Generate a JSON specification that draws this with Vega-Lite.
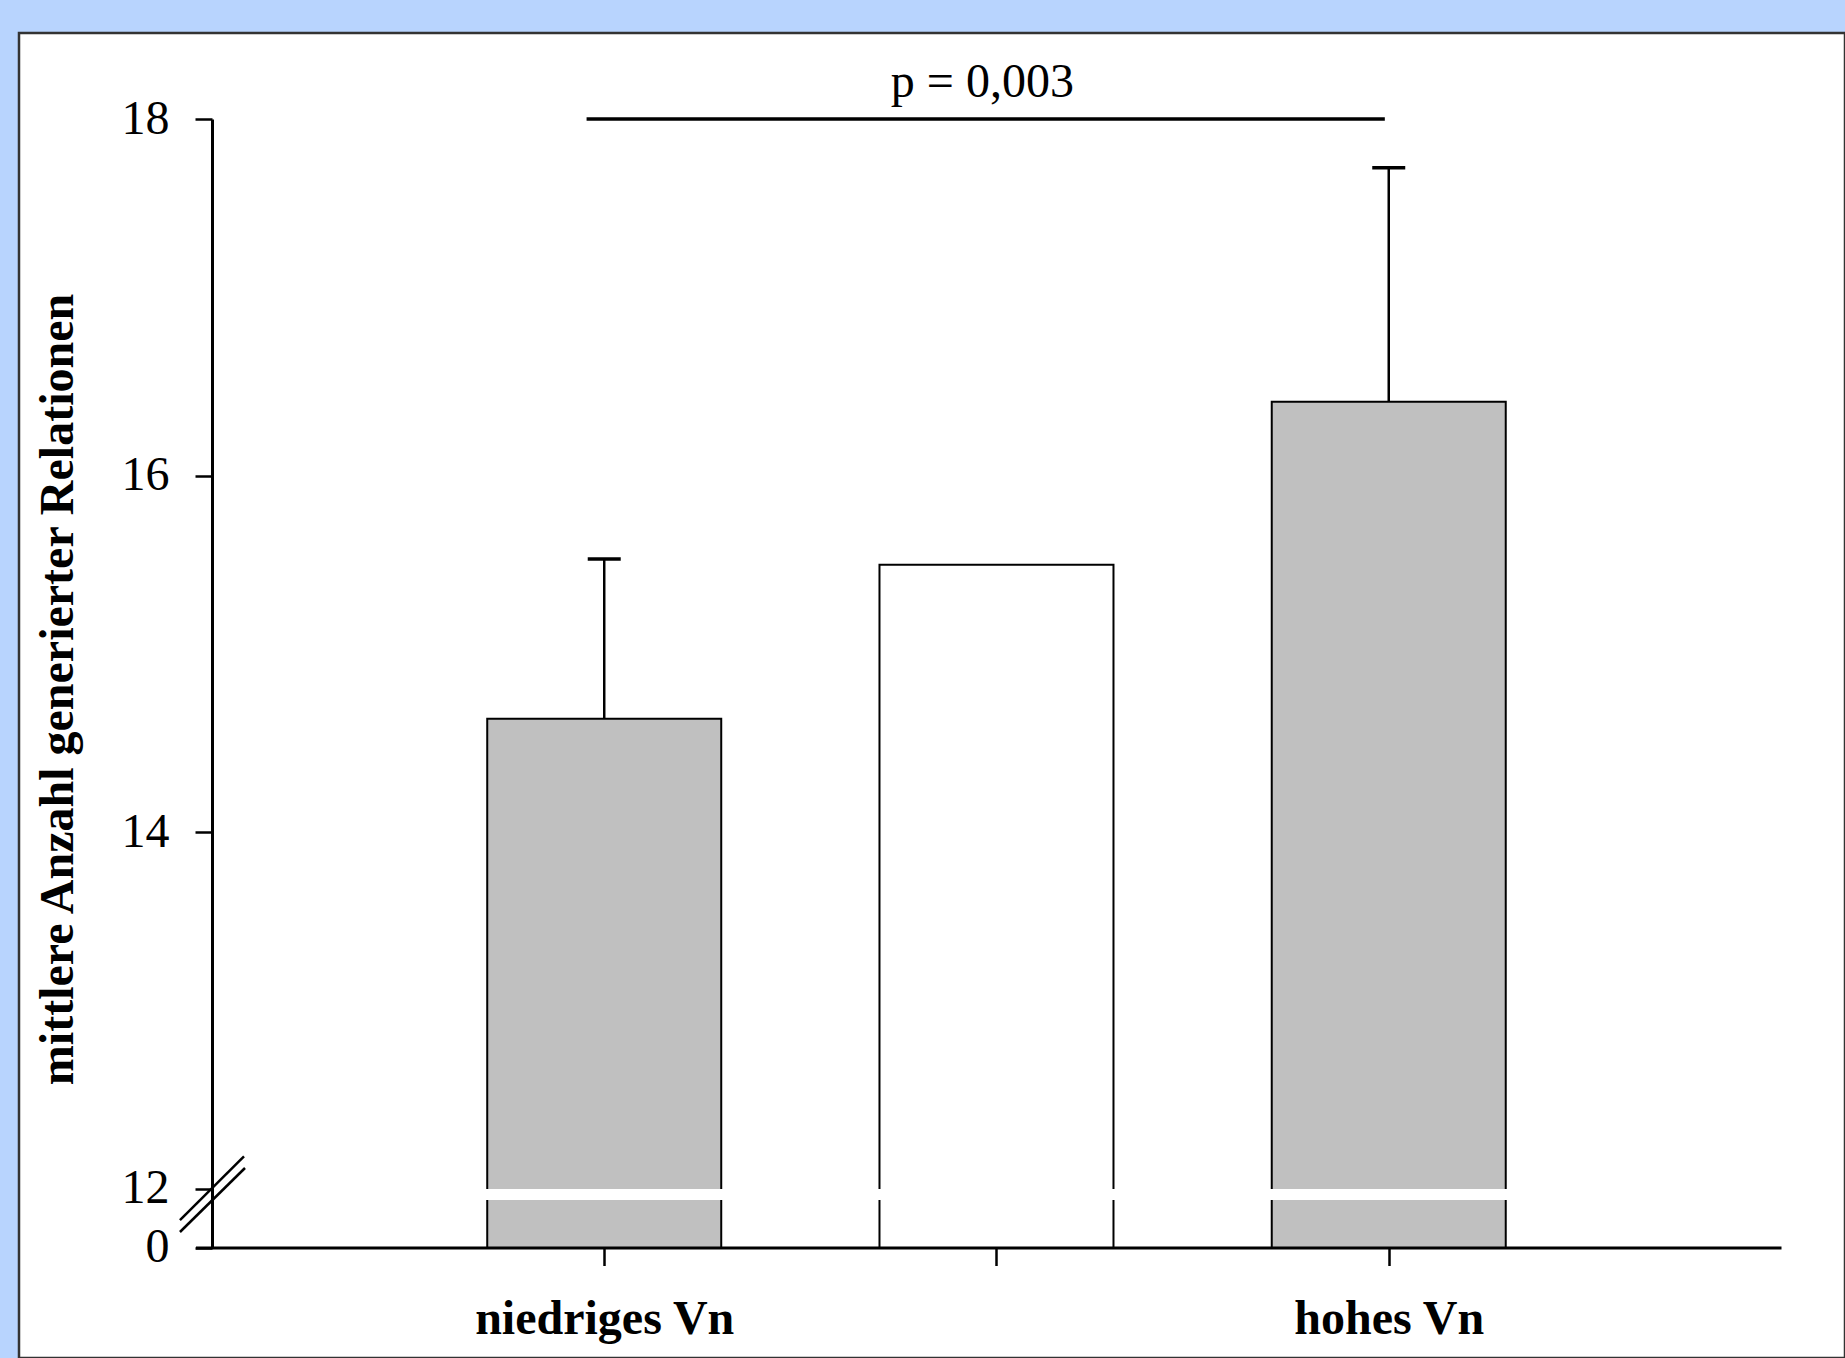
{
  "$schema": "https://vega.github.io/schema/vega-lite/v6.json",
  "autosize": "none",
  "width": 1826,
  "height": 1325,
  "padding": {"left": 19, "top": 33, "right": 0, "bottom": 0},
  "background": "#b8d4fe",
  "config": {
    "view": {"fill": "white", "stroke": "#333333", "strokeWidth": 2.5},
    "axis": {"grid": false}
  },
  "datasets": {
    "bars": [
      {"cat": 1, "gruppe": "niedriges Vn", "mittelwert": 14.635, "oben": 15.532, "typ": "grau"},
      {"cat": 2, "gruppe": "", "mittelwert": 15.5, "oben": null, "typ": "weiss"},
      {"cat": 3, "gruppe": "hohes Vn", "mittelwert": 16.414, "oben": 17.727, "typ": "grau"}
    ],
    "sig": [{"x1": 0.955, "x2": 2.99, "y": 18, "xt": 1.964, "yt": 18.125, "text": "p = 0,003"}],
    "bruch": [
      {"x1": -0.0816, "y1": 5.59, "x2": 0.0816, "y2": 12.18},
      {"x1": -0.0816, "y1": 3.15, "x2": 0.0842, "y2": 12.115}
    ]
  },
  "layer": [
    {
      "data": {"name": "bars"},
      "mark": {"type": "bar", "width": 234, "stroke": "black", "strokeWidth": 2},
      "encoding": {
        "x": {
          "field": "cat", "type": "quantitative",
          "scale": {"domain": [-0.042, 4], "range": [176.5, 1762], "nice": false, "zero": false, "padding": 0},
          "axis": {
            "values": [1, 2, 3], "offset": -110.5,
            "labelExpr": "datum.value == 1 ? 'niedriges Vn' : datum.value == 3 ? 'hohes Vn' : ''",
            "domainColor": "black", "domainWidth": 3,
            "tickColor": "black", "tickWidth": 2.5, "tickSize": 18,
            "labelFont": "Liberation Serif", "labelFontSize": 48, "labelFontWeight": "bold",
            "labelColor": "black", "labelBaseline": "alphabetic", "labelPadding": 68,
            "labelFlush": false, "labelOverlap": false, "labelLimit": 0,
            "title": null
          }
        },
        "y": {
          "field": "mittelwert", "type": "quantitative", "stack": null,
          "scale": {"domain": [0, 12, 18], "range": [1214.5, 1155.5, 86], "nice": false, "zero": false, "padding": 0},
          "axis": {
            "values": [0, 12, 14, 16, 18], "offset": -193, "format": "d",
            "domainColor": "black", "domainWidth": 3,
            "tickColor": "black", "tickWidth": 2.5, "tickSize": 17,
            "labelFont": "Liberation Serif", "labelFontSize": 48, "labelColor": "black",
            "labelPadding": 26, "labelOverlap": false, "labelFlush": false,
            "title": "mittlere Anzahl generierter Relationen",
            "titleFont": "Liberation Serif", "titleFontSize": 48, "titleFontWeight": "bold",
            "titleColor": "black", "titleAngle": -90, "titleAlign": "center",
            "titleBaseline": "alphabetic", "titleX": -140, "titleY": 656
          }
        },
        "y2": {"datum": 0},
        "fill": {
          "field": "typ", "type": "nominal",
          "scale": {"domain": ["grau", "weiss"], "range": ["#c0c0c0", "#ffffff"]},
          "legend": null
        }
      }
    },
    {
      "data": {"name": "bars"},
      "mark": {"type": "bar", "width": 238, "fill": "white", "strokeWidth": 0},
      "encoding": {
        "x": {"field": "cat", "type": "quantitative"},
        "y": {"datum": 9.66},
        "y2": {"datum": 11.9}
      }
    },
    {
      "data": {"name": "bars"},
      "transform": [{"filter": "datum.oben != null"}],
      "mark": {"type": "rule", "color": "black", "strokeWidth": 2.5},
      "encoding": {
        "x": {"field": "cat", "type": "quantitative"},
        "y": {"field": "mittelwert", "type": "quantitative"},
        "y2": {"field": "oben"}
      }
    },
    {
      "data": {"name": "bars"},
      "transform": [{"filter": "datum.oben != null"}],
      "mark": {"type": "tick", "orient": "horizontal", "size": 33, "thickness": 3.5, "color": "black", "opacity": 1},
      "encoding": {
        "x": {"field": "cat", "type": "quantitative"},
        "y": {"field": "oben", "type": "quantitative"}
      }
    },
    {
      "data": {"name": "sig"},
      "mark": {"type": "rule", "color": "black", "strokeWidth": 3.5},
      "encoding": {
        "x": {"field": "x1", "type": "quantitative"},
        "x2": {"field": "x2"},
        "y": {"field": "y", "type": "quantitative"}
      }
    },
    {
      "data": {"name": "sig"},
      "mark": {"type": "text", "font": "Liberation Serif", "fontSize": 48, "color": "black", "align": "center", "baseline": "alphabetic"},
      "encoding": {
        "x": {"field": "xt", "type": "quantitative"},
        "y": {"field": "yt", "type": "quantitative"},
        "text": {"field": "text"}
      }
    },
    {
      "data": {"name": "bruch"},
      "mark": {"type": "rule", "color": "black", "strokeWidth": 2.5},
      "encoding": {
        "x": {"field": "x1", "type": "quantitative"},
        "x2": {"field": "x2"},
        "y": {"field": "y1", "type": "quantitative"},
        "y2": {"field": "y2"}
      }
    }
  ]
}
